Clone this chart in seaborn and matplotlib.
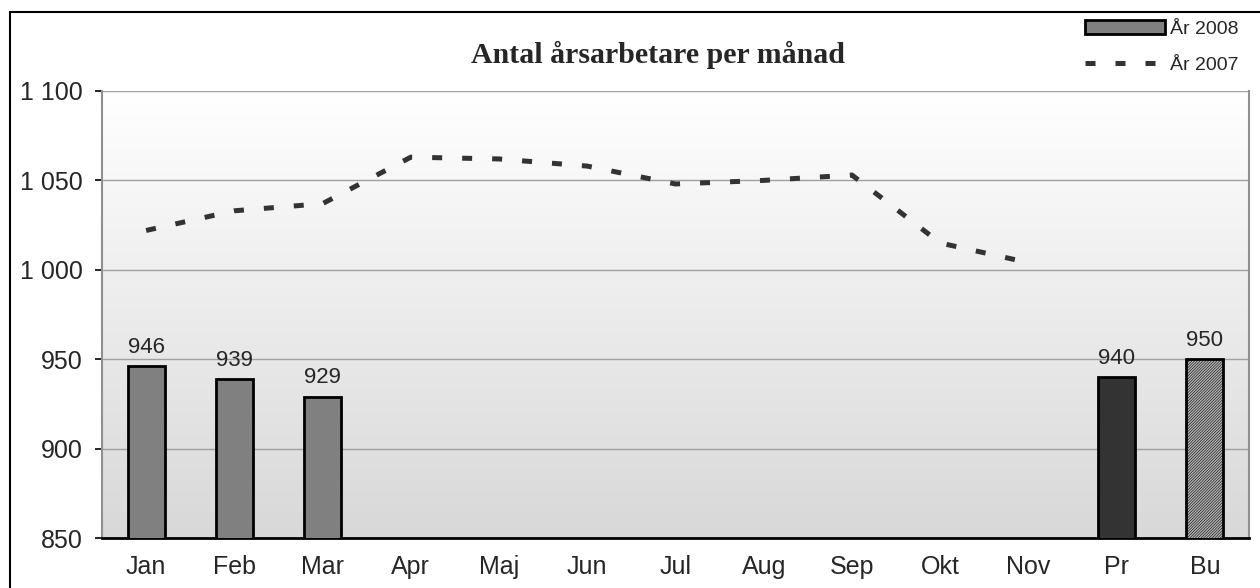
import numpy as np
import pandas as pd
import seaborn as sns
import matplotlib.pyplot as plt
from matplotlib.patches import Patch, Rectangle
from matplotlib.lines import Line2D
from matplotlib.ticker import FuncFormatter

# data
categories = ["Jan", "Feb", "Mar", "Apr", "Maj", "Jun", "Jul", "Aug", "Sep", "Okt", "Nov", "Pr", "Bu"]
bars_2008 = [946, 939, 929, None, None, None, None, None, None, None, None, 940, 950]
line_2007 = [1022, 1033, 1037, 1063, 1062, 1058, 1048, 1050, 1053, 1015, 1004]
bar_colors = ["#808080"] * 11 + ["#333333", "#b4b4b4"]

sns.set_style("white")
plt.rcParams['font.family'] = ['Liberation Sans', 'DejaVu Sans']
plt.rcParams['hatch.linewidth'] = 0.4

df = pd.DataFrame({"cat": categories, "val": [np.nan if v is None else v for v in bars_2008]})

fig = plt.figure(figsize=(12.6, 5.88), dpi=100)
ax = fig.add_axes([102/1260, 50/588, 1147/1260, 447/588])

# gradient background of the plot area
grad = np.linspace(0, 1, 256).reshape(-1, 1)
ax.imshow(grad, extent=[0, 1, 0, 1], transform=ax.transAxes,
          cmap=sns.blend_palette(["#ffffff", "#d8d8d8"], as_cmap=True),
          aspect="auto", zorder=0, origin="upper")

sns.barplot(data=df, x="cat", y="val", hue="cat", order=categories, hue_order=categories,
            palette=dict(zip(categories, bar_colors)), legend=False, width=0.42,
            edgecolor="black", linewidth=2, ax=ax, zorder=3)

# the budget bar is hatched
for patch in ax.patches:
    if isinstance(patch, Rectangle) and patch.get_x() > 11.5:
        patch.set_hatch("////////////")

for c in ax.containers:
    ax.bar_label(c, padding=6, fontsize=16)

sns.lineplot(x=np.arange(len(line_2007)), y=line_2007, ax=ax, color="#333333", linewidth=3.6,
             dashes=False, zorder=4)
ax.lines[-1].set_dashes([2.0, 4.0])
ax.lines[-1].set_dash_capstyle("butt")

ax.set_xlim(-0.5, len(categories) - 0.5)
ax.set_ylim(850, 1100)
ax.set_yticks([850, 900, 950, 1000, 1050, 1100])
ax.yaxis.set_major_formatter(FuncFormatter(lambda v, p: f"{int(v):,}".replace(",", " ")))
ax.grid(axis="y", color="#a0a0a0", linewidth=1, zorder=1)
ax.set_axisbelow(True)
ax.set_xlabel("")
ax.set_ylabel("")

ax.set_xticks(np.arange(len(categories)))
ax.set_xticks(np.arange(len(categories) + 1) - 0.5, minor=True)
ax.tick_params(axis="x", which="major", length=0, labelsize=18, pad=12)
ax.tick_params(axis="x", which="minor", length=6, width=1.5, color="black", direction="out")
ax.tick_params(axis="y", length=5, width=1.2, color="black", direction="out", labelsize=18,
               pad=9, left=True)

for s in ["top", "right", "left"]:
    ax.spines[s].set_color("#909090")
    ax.spines[s].set_linewidth(1.5)
ax.spines["bottom"].set_color("black")
ax.spines["bottom"].set_linewidth(2)
ax.spines["top"].set_visible(False)

fig.text(658/1260, 1 - 55/588, "Antal årsarbetare per månad", ha="center", va="center",
         fontsize=21.5, fontweight="bold", family="Liberation Serif")

handles = [Patch(facecolor="#808080", edgecolor="black", linewidth=2),
           Line2D([0], [0], color="#333333", linewidth=3.6, dashes=[2.0, 4.0], dash_capstyle="butt")]
fig.legend(handles, ["År 2008", "År 2007"], loc="upper right", bbox_to_anchor=(1238/1260, 1 - 20/588),
           frameon=False, fontsize=14, handlelength=4.1, handletextpad=0.25, labelspacing=0.95,
           borderpad=0, borderaxespad=0)

fig.patches.append(Rectangle((10/1260, -0.1), 1.2, (576/588) + 0.1, transform=fig.transFigure,
                             fill=False, edgecolor="black", linewidth=1.5))

fig.savefig("out.png", dpi=100)
